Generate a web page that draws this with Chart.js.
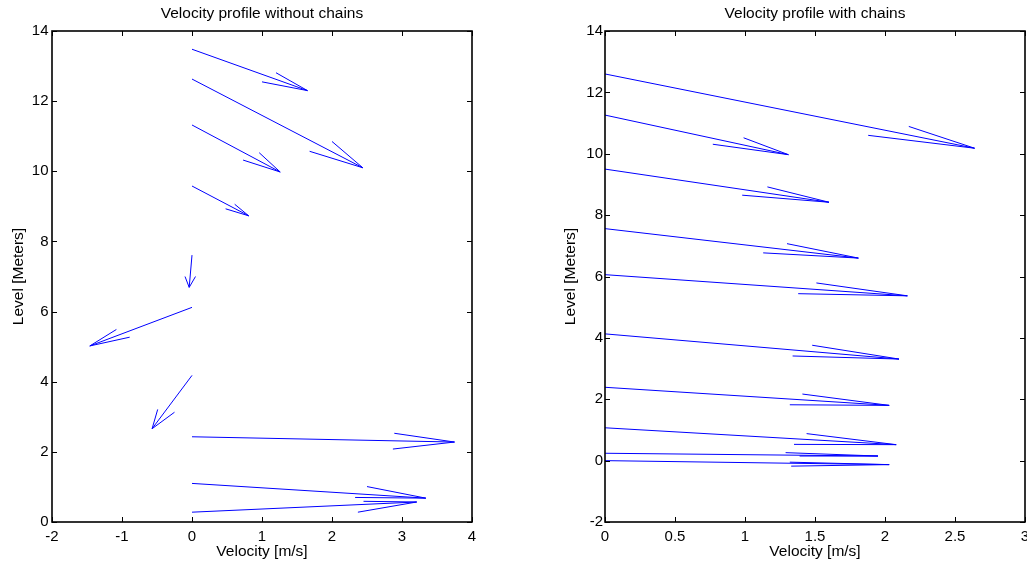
<!DOCTYPE html>
<html>
<head>
<meta charset="utf-8">
<script src="https://cdn.jsdelivr.net/npm/chart.js@4.4.1/dist/chart.umd.min.js"></script>
<style>
  body { margin: 0; background: #fff; }
  canvas { position: absolute; top: 0; }
</style>
</head>
<body>
<canvas id="left" width="500" height="563" style="left:0"></canvas>
<canvas id="right" width="474" height="563" style="left:553px"></canvas>
<script>
// without chains: every arrow starts at x = 0
const startYL = [13.48, 12.63, 11.32, 9.58, 7.61, 6.12, 4.18, 2.43, 1.10, 0.28];
const tipXL   = [1.65, 2.44, 1.26, 0.81, -0.04, -1.46, -0.57, 3.75, 3.34, 3.21];
const tipYL   = [12.30, 10.10, 9.98, 8.73, 6.69, 5.02, 2.66, 2.28, 0.68, 0.57];
const barb1XL = [1.20, 2.00, 0.96, 0.61, -0.10, -1.08, -0.49, 2.89, 2.50, 2.45];
const barb1YL = [12.81, 10.85, 10.53, 9.06, 7.00, 5.49, 3.21, 2.53, 1.01, 0.59];
const barb2XL = [1.00, 1.68, 0.73, 0.48, 0.05, -0.89, -0.25, 2.87, 2.33, 2.37];
const barb2YL = [12.55, 10.57, 10.32, 8.93, 7.00, 5.27, 3.13, 2.08, 0.70, 0.28];

// with chains
const startYR = [12.60, 11.26, 9.50, 7.56, 6.06, 4.13, 2.39, 1.07, 0.24, 0.00];
const tipXR   = [2.64, 1.31, 1.60, 1.81, 2.16, 2.10, 2.03, 2.08, 1.95, 2.03];
const tipYR   = [10.18, 9.97, 8.42, 6.60, 5.37, 3.31, 1.80, 0.52, 0.15, -0.13];
const barb1XR = [2.17, 0.99, 1.16, 1.30, 1.51, 1.48, 1.41, 1.44, 1.29, 1.32];
const barb1YR = [10.89, 10.52, 8.92, 7.07, 5.79, 3.76, 2.17, 0.88, 0.26, -0.05];
const barb2XR = [1.88, 0.77, 0.98, 1.13, 1.38, 1.34, 1.32, 1.35, 1.39, 1.33];
const barb2YR = [10.60, 10.31, 8.65, 6.77, 5.44, 3.41, 1.82, 0.53, 0.15, -0.18];

const xTicksL = [-2, -1, 0, 1, 2, 3, 4];
const yTicksL = [0, 2, 4, 6, 8, 10, 12, 14];
const xTicksR = [0, 0.5, 1, 1.5, 2, 2.5, 3];
const yTicksR = [-2, 0, 2, 4, 6, 8, 10, 12, 14];

const FONT = "'Liberation Sans', Arial, Helvetica, sans-serif";

function arrowSets(startY, tipX, tipY, b1x, b1y, b2x, b2y) {
  const sets = [];
  startY.forEach((y0, i) => {
    const tip = { x: tipX[i], y: tipY[i] };
    sets.push({ data: [{ x: 0, y: y0 }, tip] });
    sets.push({ data: [{ x: b1x[i], y: b1y[i] }, tip, { x: b2x[i], y: b2y[i] }] });
  });
  return sets.map(s => ({
    ...s, showLine: true, borderColor: '#0000ff', borderWidth: 1,
    pointRadius: 0, pointHoverRadius: 0, tension: 0
  }));
}

// box round the axes with inward ticks on all four sides, like matlab
const boxPlugin = {
  id: 'boxPlugin',
  afterDatasetsDraw(chart) {
    const { ctx, chartArea: a, scales: { x, y } } = chart;
    ctx.save();
    ctx.strokeStyle = '#000';
    ctx.lineWidth = 1;
    ctx.beginPath();
    x.ticks.forEach(t => {
      const px = Math.round(x.getPixelForValue(t.value)) + 0.5;
      ctx.moveTo(px, a.bottom); ctx.lineTo(px, a.bottom - 5);
      ctx.moveTo(px, a.top); ctx.lineTo(px, a.top + 5);
    });
    y.ticks.forEach(t => {
      const py = Math.round(y.getPixelForValue(t.value)) + 0.5;
      ctx.moveTo(a.left, py); ctx.lineTo(a.left + 5, py);
      ctx.moveTo(a.right, py); ctx.lineTo(a.right - 5, py);
    });
    ctx.stroke();
    ctx.lineWidth = 1.6;
    ctx.strokeRect(a.left, a.top, a.right - a.left, a.bottom - a.top);
    ctx.restore();
  }
};

function makeChart(id, title, sets, xr, yr, xTicks, yTicks, padRight, tickPadY, titlePadY) {
  return new Chart(document.getElementById(id), {
    type: 'scatter',
    data: { datasets: sets },
    plugins: [boxPlugin],
    options: {
      responsive: false,
      animation: false,
      devicePixelRatio: 1,
      layout: { padding: { left: 0, right: padRight, top: 0, bottom: 0 } },
      plugins: {
        legend: { display: false },
        tooltip: { enabled: false },
        title: {
          display: true, text: title, fullSize: false, color: '#000',
          font: { family: FONT, size: 15.5, weight: 'normal' },
          padding: { top: 4.5, bottom: 7.9 }
        }
      },
      scales: {
        x: {
          type: 'linear', min: xr[0], max: xr[1],
          afterBuildTicks: s => { s.ticks = xTicks.map(v => ({ value: v })); },
          afterFit: s => { s.height = 41; s.paddingLeft = 0; s.paddingRight = 0; },
          grid: { display: false, drawTicks: false },
          border: { display: false },
          ticks: {
            color: '#000', padding: 5.5, maxRotation: 0, autoSkip: false,
            font: { family: FONT, size: 15 },
            callback: v => String(v)
          },
          title: {
            display: true, text: 'Velocity [m/s]', color: '#000',
            font: { family: FONT, size: 15.5 }, padding: { top: 0, bottom: 1.7 }
          }
        },
        y: {
          type: 'linear', min: yr[0], max: yr[1],
          afterBuildTicks: s => { s.ticks = yTicks.map(v => ({ value: v })); },
          afterFit: s => { s.width = 52; s.paddingTop = 0; s.paddingBottom = 0; },
          grid: { display: false, drawTicks: false },
          border: { display: false },
          ticks: {
            color: '#000', padding: tickPadY, autoSkip: false,
            font: { family: FONT, size: 15 },
            callback: v => String(v)
          },
          title: {
            display: true, text: 'Level [Meters]', color: '#000',
            font: { family: FONT, size: 15.5 }, padding: { top: titlePadY, bottom: 0 }
          }
        }
      }
    }
  });
}

makeChart('left', 'Velocity profile without chains',
  arrowSets(startYL, tipXL, tipYL, barb1XL, barb1YL, barb2XL, barb2YL),
  [-2, 4], [0, 14], xTicksL, yTicksL, 28, 3.5, 9.2);

makeChart('right', 'Velocity profile with chains',
  arrowSets(startYR, tipXR, tipYR, barb1XR, barb1YR, barb2XR, barb2YR),
  [0, 3], [-2, 14], xTicksR, yTicksR, 2, 2, 8.2);
</script>
</body>
</html>
